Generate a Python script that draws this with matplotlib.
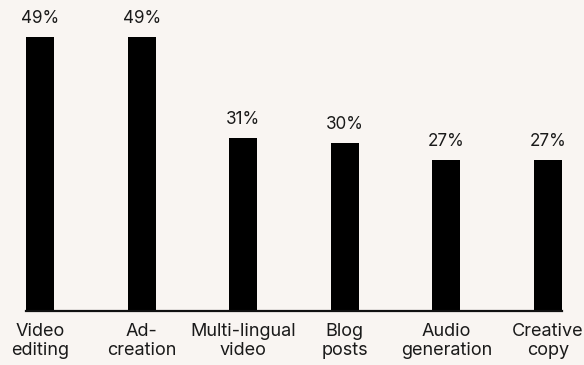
import matplotlib.pyplot as plt
import numpy as np

categories = ['Video\nediting', 'Ad-\ncreation', 'Multi-lingual\nvideo',
              'Blog\nposts', 'Audio\ngeneration', 'Creative\ncopy']
values = [49, 49, 31, 30, 27, 27]
value_labels = ['49%', '49%', '31%', '30%', '27%', '27%']

bg = '#f9f5f2'
plt.rcParams['font.family'] = ['Inter', 'DejaVu Sans']

fig = plt.figure(figsize=(5.84, 3.65), dpi=100, facecolor=bg)
ax = fig.add_axes([26 / 584, 54 / 365, 536 / 584, 311 / 365])
ax.set_facecolor(bg)

x = np.arange(len(categories))
bars = ax.bar(x, values, width=0.276, color='black')

for xi, v, lab in zip(x, values, value_labels):
    ax.annotate(lab, (xi, v), xytext=(0, 7), textcoords='offset points',
                ha='center', va='bottom', fontsize=12.3, color='#1a1a1a')

ax.set_xlim(-0.138, 5.138)
ax.set_ylim(0, 55.6)
ax.set_yticks([])
ax.set_xticks(x)
ax.set_xticklabels(categories, fontsize=13, color='#1a1a1a', linespacing=1.1)
ax.tick_params(axis='x', length=0, pad=9)

for s in ['top', 'right', 'left']:
    ax.spines[s].set_visible(False)
ax.spines['bottom'].set_linewidth(1.6)
ax.spines['bottom'].set_color('#111111')

fig.savefig('out.png', dpi=100, facecolor=bg)
